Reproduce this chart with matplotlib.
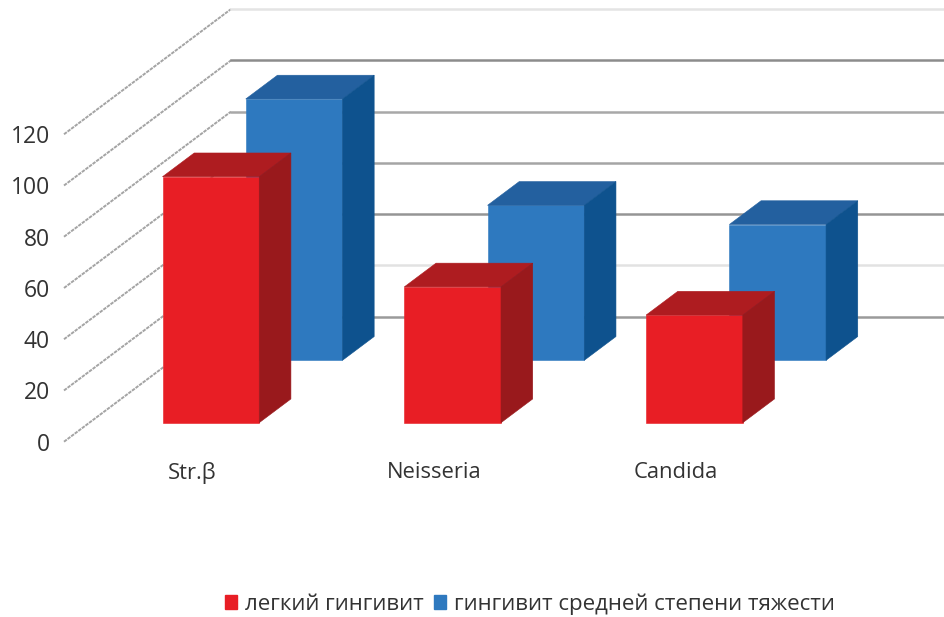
import matplotlib
matplotlib.use("Agg")
import matplotlib.pyplot as plt
from matplotlib.patches import Patch, Polygon

plt.rcParams['font.family'] = ['Open Sans', 'DejaVu Sans']

categories = ["Str.β", "Neisseria", "Candida"]
mild = [96, 53, 42]
moderate = [102, 60.5, 53]
series_names = ["легкий гингивит", "гингивит средней степени тяжести"]
y_ticks = [0, 20, 40, 60, 80, 100, 120]
grid_colors = ["#9a9a9a", "#e2e2e2", "#959595", "#a5a5a5", "#a8a8a8", "#8c8c8c", "#e4e4e4"]

# fake 3D: a point at depth d (0 front, 1 back wall) gets shifted by d * wall offset
wall_dx = 0.69
wall_dy = 48.8
bar_width = 0.40
bar_depth = 0.19
mild_depth = 0.152
moderate_depth = 0.651

red = ("#e81e25", "#ae1c20", "#99191c")
blue = ("#2e79bf", "#23609f", "#0e528e")


def shift(x, y, d):
    return (x + d * wall_dx, y + d * wall_dy)


def draw_bar(ax, pos, value, d, colors):
    front, top, side = colors
    x0 = pos - bar_width / 2
    x1 = pos + bar_width / 2
    d2 = d + bar_depth
    faces = [
        ([shift(x0, 0, d), shift(x1, 0, d), shift(x1, value, d), shift(x0, value, d)], front),
        ([shift(x0, value, d), shift(x1, value, d), shift(x1, value, d2), shift(x0, value, d2)], top),
        ([shift(x1, 0, d), shift(x1, 0, d2), shift(x1, value, d2), shift(x1, value, d)], side),
    ]
    for pts, c in faces:
        ax.add_patch(Polygon(pts, closed=True, facecolor=c, edgecolor=c, lw=0.4, zorder=4, clip_on=False))


fig = plt.figure(figsize=(9.44, 6.17), dpi=100)
ax = fig.add_axes([64 / 944, 1 - 458 / 617, 880 / 944, 458 / 617])
ax.set_xlim(-0.5025, 3.137)
ax.set_ylim(-6.36, 172.4)

# walls: diagonals on the side, horizontal lines on the back
for v, c in zip(y_ticks, grid_colors):
    ax.plot([-0.5025, -0.5025 + wall_dx], [v, v + wall_dy], color="#a4a4a4", lw=1.4,
            ls=(0, (1.8, 0.5)), zorder=1, clip_on=False)
    ax.plot([-0.5025 + wall_dx, 3.137], [v + wall_dy, v + wall_dy], color=c, lw=1.8, zorder=1)

# blue first, the red columns stand in front of it
for i, v in enumerate(moderate):
    draw_bar(ax, i, v, moderate_depth, blue)
for i, v in enumerate(mild):
    draw_bar(ax, i, v, mild_depth, red)

for s in ax.spines.values():
    s.set_visible(False)
ax.patch.set_visible(False)
ax.set_yticks(y_ticks)
ax.set_xticks([i + 0.027 for i in range(len(categories))])
ax.set_xticklabels(categories)
ax.tick_params(axis='y', length=0, pad=10, labelsize=16.5, labelcolor="#333333")
ax.tick_params(axis='x', length=0, pad=3, labelsize=15.8, labelcolor="#333333")

handles = [Patch(color=red[0], label=series_names[0]), Patch(color=blue[0], label=series_names[1])]
fig.legend(handles=handles, ncols=2, loc='center', bbox_to_anchor=(530 / 944, 1 - 604 / 617),
           frameon=False, fontsize=16, handlelength=0.55, handleheight=0.55, handletextpad=0.35,
           columnspacing=0.45, labelcolor="#333333")

fig.savefig("out.png", dpi=100)
